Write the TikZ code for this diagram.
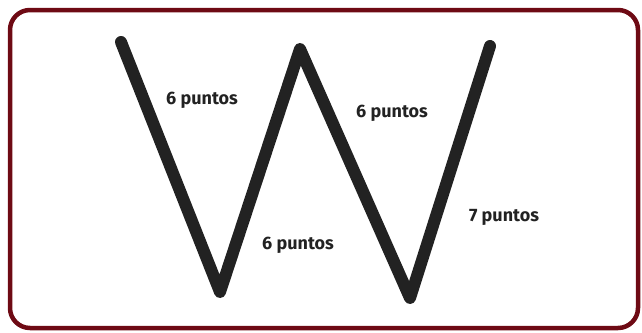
\documentclass[tikz,border=0pt]{standalone}
\usepackage{fontspec}
\setmainfont{Fira Sans}
\usepackage{xcolor}
\usetikzlibrary{positioning}
\definecolor{marco}{HTML}{6E0A14}
\definecolor{trazo}{HTML}{222222}
\tikzstyle{frame} = [draw=marco, line width=4.5pt, rounded corners=20pt]
\tikzstyle{stroke} = [draw=trazo, line width=12pt, line cap=round, line join=round]
\tikzstyle{label} = [font=\bfseries\fontsize{18}{20}\selectfont, text=trazo, inner sep=0pt]

\begin{document}
\begin{tikzpicture}[x=1pt, y=-1pt]

        % --- Marco ---
        \useasboundingbox (0,0) rectangle (642,332);
        \draw [frame] (10,10) rectangle (638,328);

        % --- Vértices de la W ---
        \coordinate (p1) at (121,42);
        \coordinate (p2) at (220,292);
        \coordinate (p3) at (300,49);
        \coordinate (p4) at (410,298);
        \coordinate (p5) at (490,46);

        \draw [stroke] (p1) -- (p2) -- (p3) -- (p4) -- (p5);

        % --- Etiquetas ---
        \node (l1) [label] at (202,100) {6 puntos};
        \node (l2) [label] at (298,245) {6 puntos};
        \node (l3) [label] at (392,113) {6 puntos};
        \node (l4) [label] at (504,217) {7 puntos};

\end{tikzpicture}
\end{document}
